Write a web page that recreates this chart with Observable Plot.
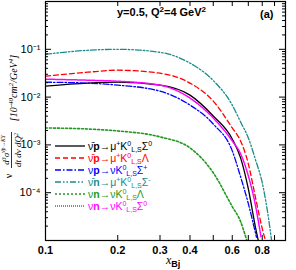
<!DOCTYPE html>
<html><head><meta charset="utf-8">
<script src="https://cdn.jsdelivr.net/npm/d3@7"></script>
<script src="https://cdn.jsdelivr.net/npm/@observablehq/plot@0.6"></script>
<style>
body{margin:0;background:#fff;}
#chart{width:296px;height:270px;}
svg{font-family:"Liberation Sans",Arial,sans-serif;}
</style></head><body><div id="chart"></div>
<script>
// ---- data ----
const blackX = [0.1,0.15,0.2,0.3,0.4,0.5,0.6,0.65,0.7,0.75,0.77];
const blackY = [0.0170,0.0196,0.0205,0.0178,0.0110,0.00402,0.00133,0.000536,0.000121,1.87e-5,1.0e-5];
const redX = [0.1,0.15,0.2,0.3,0.4,0.5,0.6,0.65,0.7,0.75,0.8,0.825];
const redY = [0.0274,0.0332,0.0365,0.0316,0.0196,0.00825,0.00226,0.00121,0.000402,7.87e-5,1.78e-5,1.0e-5];
const blueX = [0.1,0.15,0.2,0.3,0.4,0.5,0.6,0.65,0.7,0.757];
const blueY = [0.0205,0.0196,0.0178,0.0133,0.00681,0.00274,0.00075,0.000215,5.9e-5,1.17e-5];
const tealX = [0.1,0.15,0.2,0.3,0.4,0.5,0.6,0.65,0.7,0.75,0.8,0.85,0.875];
const tealY = [0.0787,0.0953,0.1,0.0866,0.0513,0.0222,0.00681,0.00301,0.0014,0.000487,0.000162,2.88e-5,1.0e-5];
const greenX = [0.1,0.15,0.2,0.3,0.4,0.5,0.6,0.65,0.68,0.69];
const greenY = [0.00226,0.00215,0.00196,0.00147,0.000866,0.000261,5.11e-5,2.49e-5,1.27e-5,1.0e-5];
const magX = [0.1,0.15,0.2,0.3,0.4,0.5,0.6,0.65,0.7,0.75,0.79];
const magY = [0.0237,0.0226,0.0215,0.0178,0.00953,0.00365,0.00121,0.00065,0.000226,5.37e-5,1.2e-5];

const xTickLabels = [0.1,0.2,0.3,0.4,0.6,0.8];
const xTicks = [0.2,0.3,0.4,0.5,0.6,0.7,0.8,0.9];
const yTickLabels = [1e-1,1e-2,1e-3,1e-4];
const yMajor = [1e-5,1e-4,1e-3,1e-2,1e-1,1];
const yMinor = [1e-5,1e-4,1e-3,1e-2,1e-1].flatMap(d => [2,3,4,5,6,7,8,9].map(m => m*d));

const supMap = {"-":"⁻","0":"⁰","1":"¹","2":"²","3":"³","4":"⁴","5":"⁵"};
const sup = s => String(s).split("").map(c => supMap[c]).join("");

const series = [
  {x: blackX, y: blackY, color:"#000000", dash:"none", w:1.3},
  {x: redX, y: redY, color:"#ff0000", dash:"5,3", w:1.3},
  {x: blueX, y: blueY, color:"#0000ff", dash:"6,2,1.5,2", w:1.3},
  {x: tealX, y: tealY, color:"#1a8c8c", dash:"6,2,1.5,2,1.5,2", w:1.3},
  {x: greenX, y: greenY, color:"#229922", dash:"2,2", w:1.6},
  {x: magX, y: magY, color:"#ff00ff", dash:"1,1", w:1.5}
];

const W = 296, H = 270, mL = 45, mR = 11, mT = 1, mB = 30;
const pw = W - mL - mR, ph = H - mT - mB;

const marks = [];
for (const s of series) {
  const pts = s.x.map((x,i) => ({x, y: s.y[i]}));
  marks.push(Plot.line(pts, {x:"x", y:"y", stroke:s.color, strokeWidth:s.w, strokeDasharray:s.dash, curve:"monotone-x", clip:true}));
}
// inward ticks on all four sides
marks.push(
  Plot.tickX(xTicks, {x:d=>d, insetTop: ph-5, stroke:"black"}),
  Plot.tickX(xTicks, {x:d=>d, insetBottom: ph-5, stroke:"black"}),
  Plot.tickY(yMajor, {y:d=>d, insetRight: pw-6, stroke:"black"}),
  Plot.tickY(yMinor, {y:d=>d, insetRight: pw-3, stroke:"black"}),
  Plot.tickY(yMajor, {y:d=>d, insetLeft: pw-6, stroke:"black"}),
  Plot.tickY(yMinor, {y:d=>d, insetLeft: pw-3, stroke:"black"}),
  Plot.text(xTickLabels, {x:d=>d, frameAnchor:"bottom", dy:13, text:d=>String(d), fontSize:11, fontWeight:"bold", textAnchor:"middle"}),
  Plot.text(yTickLabels, {y:d=>d, frameAnchor:"left", dx:-5, text:d=>"10"+sup(Math.round(Math.log10(d))), fontSize:11, textAnchor:"end"}),
  Plot.frame({stroke:"black", strokeWidth:1.2})
);

const chart = Plot.plot({
  width: W, height: H,
  marginLeft: mL, marginRight: mR, marginTop: mT, marginBottom: mB,
  x: {type:"log", domain:[0.1,1], axis:null},
  y: {type:"log", domain:[1e-5,1], axis:null},
  style: {background:"#fff", color:"#000", fontFamily:"'Liberation Sans',Arial,sans-serif"},
  marks
});
document.getElementById("chart").appendChild(chart);

const svg = d3.select(chart);
function rich(parent, segs) {
  for (const s of segs) {
    const t = parent.append("tspan").text(s.t);
    if (s.dy) t.attr("dy", s.dy);
    if (s.fs) t.attr("font-size", s.fs);
    if (s.b) t.attr("font-weight", "bold");
    if (s.i) t.attr("font-style", "italic");
    if (s.ff) t.attr("font-family", s.ff);
  }
}
// title
const title = svg.append("text").attr("x", 117).attr("y", 16).attr("font-size", 11).attr("font-weight","bold").attr("text-anchor","start");
rich(title, [{t:"y=0.5, Q"},{t:"2",fs:8,dy:-4},{t:"=4 GeV",dy:4},{t:"2",fs:8,dy:-4}]);
svg.append("text").attr("x", 260).attr("y", 18).attr("font-size", 11).attr("font-weight","bold").attr("text-anchor","start").text("(a)");

// x label
const xl = svg.append("text").attr("x", 166).attr("y", 264).attr("font-size", 12).attr("text-anchor","start");
rich(xl, [{t:"x", i:true, ff:"Liberation Serif"},{t:"Bj", fs:9, b:true, dy:3}]);

// y label (rotated pieces)
const yl1 = svg.append("text").attr("transform","translate(17,88) rotate(-90)").attr("text-anchor","middle").attr("font-size",10).attr("font-family","Liberation Serif").attr("font-style","italic");
rich(yl1, [{t:"[10"},{t:"-40",fs:7,dy:-4},{t:"cm",dy:4},{t:"2",fs:7,dy:-4},{t:"/GeV",dy:4},{t:"4",fs:7,dy:-4},{t:"]",dy:4}]);
const yl2 = svg.append("text").attr("transform","translate(9,150) rotate(-90)").attr("text-anchor","middle").attr("font-size",9).attr("font-family","Liberation Serif").attr("font-style","italic");
rich(yl2, [{t:"d"},{t:"3",fs:6,dy:-3},{t:"σ",dy:3},{t:"ν̄p→KY",fs:5.5,dy:-4}]);
svg.append("line").attr("x1",11.5).attr("x2",11.5).attr("y1",132).attr("y2",168).attr("stroke","black").attr("stroke-width",0.8);
const yl3 = svg.append("text").attr("transform","translate(21,150) rotate(-90)").attr("text-anchor","middle").attr("font-size",9).attr("font-family","Liberation Serif").attr("font-style","italic");
rich(yl3, [{t:"dt dν dQ"},{t:"2",fs:6,dy:-3}]);
svg.append("text").attr("transform","translate(12,176) rotate(-90)").attr("text-anchor","middle").attr("font-size",10).attr("font-family","Liberation Serif").text("ν");

// legend
const legend = [
  [{t:"ν̄"},{t:"p",b:true},{t:"→μ"},{t:"+",fs:7,dy:-4},{t:"K",dy:4},{t:"0",fs:7,dy:-4},{t:"L,S",fs:7,dy:6},{t:"Σ",dy:-2},{t:"0",fs:7,dy:-4}],
  [{t:"ν̄"},{t:"p",b:true},{t:"→μ"},{t:"+",fs:7,dy:-4},{t:"K",dy:4},{t:"0",fs:7,dy:-4},{t:"L,S",fs:7,dy:6},{t:"Λ",dy:-2}],
  [{t:"ν"},{t:"p",b:true},{t:"→νK"},{t:"0",fs:7,dy:-4},{t:"L,S",fs:7,dy:6},{t:"Σ",dy:-2},{t:"+",fs:7,dy:-4}],
  [{t:"ν̄"},{t:"n",b:true},{t:"→μ"},{t:"+",fs:7,dy:-4},{t:"K",dy:4},{t:"0",fs:7,dy:-4},{t:"L,S",fs:7,dy:6},{t:"Σ",dy:-2},{t:"-",fs:7,dy:-4}],
  [{t:"ν"},{t:"n",b:true},{t:"→νK"},{t:"0",fs:7,dy:-4},{t:"L,S",fs:7,dy:6},{t:"Λ",dy:-2}],
  [{t:"ν"},{t:"n",b:true},{t:"→νK"},{t:"0",fs:7,dy:-4},{t:"L,S",fs:7,dy:6},{t:"Σ",dy:-2},{t:"0",fs:7,dy:-4}]
];
legend.forEach((segs, i) => {
  const s = series[i], y = 146 + 12*i;
  svg.append("line").attr("x1",55).attr("x2",85).attr("y1",y).attr("y2",y)
    .attr("stroke",s.color).attr("stroke-width",s.w).attr("stroke-dasharray",s.dash);
  const t = svg.append("text").attr("x",88).attr("y",y+4).attr("font-size",10.5).attr("fill",s.color).attr("text-anchor","start");
  rich(t, segs);
});
</script></body></html>
